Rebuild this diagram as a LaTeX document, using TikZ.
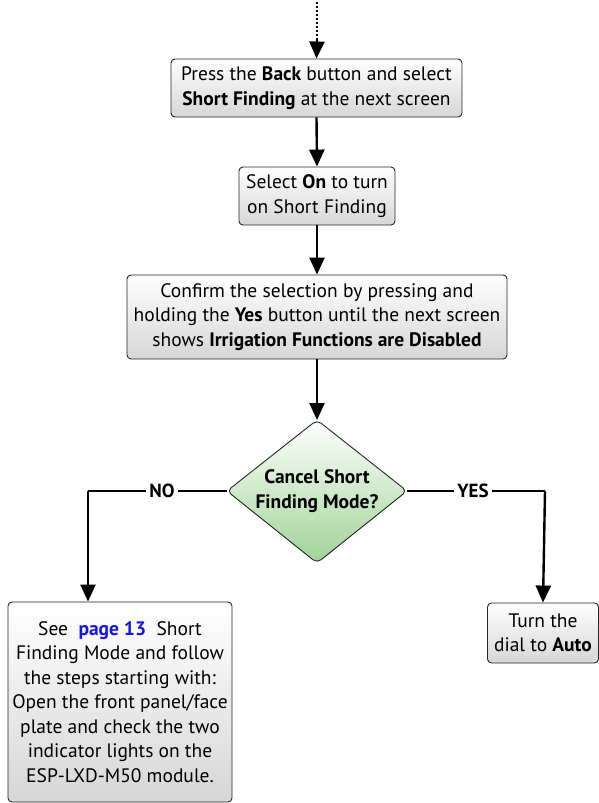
\documentclass[tikz,border=0pt]{standalone}
\usepackage{fontspec}
\setmainfont{PT Sans}
\usetikzlibrary{arrows.meta,shapes.geometric}
\definecolor{linkblue}{RGB}{20,20,230}
\definecolor{dgreen}{RGB}{160,210,150}
\tikzset{
  stepbox/.style={draw=black!85, line width=0.9pt, rounded corners=4pt, top color=white, bottom color=black!16, align=center, inner sep=0pt, font=\fontsize{19.5}{24.5}\selectfont},
  flow/.style={line width=2.4pt, -{Triangle[length=17pt,width=15pt]}},
  lbl/.style={fill=white, font=\fontsize{19}{22}\selectfont\bfseries, inner sep=3pt},
}
\begin{document}
\begin{tikzpicture}[x=1pt,y=-1pt]
\useasboundingbox (0,0) rectangle (599,803);
% boxes
\node[stepbox, minimum width=291, minimum height=58] (b1) at (316.5,88) {Press the \textbf{Back} button and select\\\textbf{Short Finding} at the next screen};
\node[stepbox, minimum width=156, minimum height=58] (b2) at (317,196) {Select \textbf{On} to turn\\on Short Finding};
\node[stepbox, minimum width=380, minimum height=84] (b3) at (317,317) {Confirm the selection by pressing and\\holding the \textbf{Yes} button until the next screen\\shows \textbf{Irrigation Functions are Disabled}};
% diamond
\coordinate (dt) at (317,420);
\coordinate (dr) at (407,491);
\coordinate (db) at (317,563);
\coordinate (dl) at (227,491);
\shade[top color=white, bottom color=dgreen, draw=black!85, line width=0.9pt, rounded corners=5pt]
  (dt) -- (dr) -- (db) -- (dl) -- cycle;
\node[align=center, font=\fontsize{19.5}{24.5}\selectfont\bfseries] (d) at (317,491) {Cancel Short\\Finding Mode?};
\node[stepbox, minimum width=224, minimum height=200] (b4) at (120,702) {See \ \textcolor{linkblue}{\textbf{page 13}} \ Short\\Finding Mode and follow\\the steps starting with:\\Open the front panel/face\\plate and check the two\\indicator lights on the\\ESP-LXD-M50 module.};
\node[stepbox, minimum width=111, minimum height=60] (b5) at (543,633) {Turn the\\dial to \textbf{Auto}};
% connectors
\coordinate (top) at (317,2);
\coordinate (topm) at (317,40);
\draw[line width=2pt, dotted] (top) -- (topm);
\draw[flow] (topm) -- (b1.north);
\draw[flow] (b1.south) -- (b2.north);
\draw[flow] (b2.south) -- (b3.north);
\draw[flow] (b3.south) -- (dt);
\coordinate (nl) at (88,491);
\coordinate (yr) at (545,491);
\draw[line width=2.4pt] (dl) -- (nl);
\draw[flow] (nl) -- (nl |- b4.north);
\draw[line width=2.4pt] (dr) -- (yr);
\draw[flow] (yr) -- (b5.north);
\node[lbl] (no) at (162,491) {NO};
\node[lbl] (yes) at (473,491) {YES};
\end{tikzpicture}
\end{document}
